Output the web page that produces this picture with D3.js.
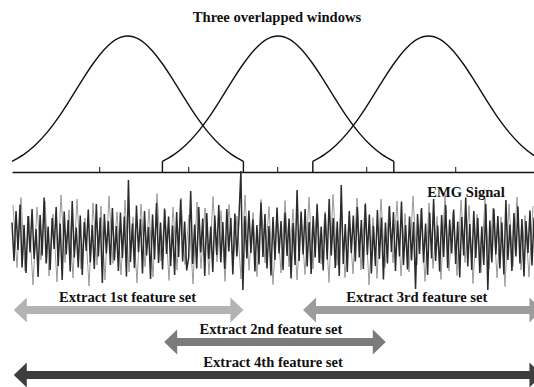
<!DOCTYPE html>
<html><head><meta charset="utf-8">
<script src="https://cdn.jsdelivr.net/npm/d3@7"></script>
<style>html,body{margin:0;padding:0;background:#fff;}svg{display:block;}</style>
</head><body>
<svg id="c" width="534" height="387"></svg>
<script>
// ---- data ----
const title = "Three overlapped windows";
const signalLabel = "EMG Signal";
const timeDomain = [0.02, 6.0];
const tickValues = [1, 2, 3, 4, 5];
const windowStarts = [0.02, 1.71, 3.40];
const windowLength = 2.6;
const windowShape = [0.079,0.128,0.197,0.288,0.400,0.530,0.666,0.796,0.903,0.975,1.0,0.975,0.903,0.796,0.666,0.530,0.400,0.288,0.197,0.128,0.079];
// EMG signal, dark trace (core)
const emg = [
0.35,-0.42,0.58,-0.20,0.71,-0.55,0.30,-0.66,0.48,-0.25,
0.62,-0.38,0.22,-0.74,0.50,-0.31,0.85,-0.47,0.27,-0.60,
0.44,-0.18,0.66,-0.52,0.33,-0.80,0.57,-0.29,0.40,-0.63,
0.78,-0.35,0.25,-0.55,0.49,-0.70,0.36,-0.22,0.61,-0.45,
0.30,-0.58,0.72,-0.33,0.45,-0.86,0.52,-0.27,0.38,-0.50,
0.64,-0.41,0.28,-0.62,0.55,-0.36,0.47,-0.73,1.20,-0.44,
0.33,-0.56,0.69,-0.24,0.42,-0.67,0.58,-0.31,0.26,-0.78,
0.51,-0.39,0.74,-0.46,0.35,-0.59,0.63,-0.28,0.47,-0.52,
0.29,-0.70,0.56,-0.34,0.81,-0.43,0.37,-0.61,-0.35,0.98,
-0.48,0.31,-0.57,0.66,-0.25,0.43,-0.72,0.54,-0.38,0.27,
-0.64,0.49,-0.30,0.70,-0.45,0.36,-0.58,0.62,-0.23,0.44,
-0.69,0.53,-0.33,0.40,1.38,-1.00,0.48,-0.37,0.59,-0.26,
0.41,-0.63,0.30,-0.49,0.75,-0.34,0.52,-0.57,0.28,-0.71,
0.46,-0.40,0.65,-0.27,0.38,-0.60,0.55,-0.32,0.43,-0.77,
0.34,-0.50,1.00,-0.42,0.57,-0.29,0.62,-0.53,0.36,-0.68,
0.48,-0.35,0.71,-0.46,0.27,-0.61,0.53,-0.39,0.82,-0.31,
0.44,-0.56,0.37,-0.72,1.10,-0.48,0.32,-0.64,0.58,-0.26,
0.49,-0.43,0.66,-0.35,0.40,-0.58,0.73,-0.30,0.51,-0.67,
0.28,-0.52,0.60,-0.38,0.45,-0.79,0.35,-0.47,0.68,-0.24,
0.56,-0.62,0.39,-0.33,0.77,-0.50,0.30,-0.59,0.47,-0.41,
0.36,-0.98,0.52,-0.28,0.64,-0.45,0.33,-0.70,0.55,-0.37,
0.82,-0.42,0.29,-0.63,0.50,-0.34,0.70,-0.56,0.41,-0.27,
0.61,-0.48,0.37,-0.75,0.46,-0.31,0.85,-0.53,0.32,-0.60,
0.58,-0.36,0.44,-0.66,0.27,-0.50,0.72,-1.00,0.39,-0.45,
0.63,-0.29,0.48,-0.57,0.35,-0.69,0.80,-0.40,0.31,-0.62,
0.54,-0.33,0.67,-0.47,0.42,-0.73,0.38,-0.26,0.59,-0.51,
0.45];
// EMG signal, light trace (outer spikes)
const emgLight = [
0.70,-0.55,0.85,-0.62,0.48,-0.90,0.66,-0.40,0.78,-0.72,
0.52,-0.84,0.90,-0.45,0.60,-0.76,0.82,-0.58,0.44,-0.92,
0.74,-0.50,0.68,-0.80,0.88,-0.47,0.56,-0.70,0.80,-0.64,
0.46,-0.86,0.72,-0.53,0.62,-0.74,0.93,-0.42,0.58,-0.81,
0.66,-0.60,0.84,-0.49,0.50,-0.88,0.76,-0.57,0.64,-0.70,
0.87,-0.44,0.59,-0.83,0.71,-0.52,0.48,-0.78,0.90,-0.61,
0.55,-0.73,0.81,-0.46,0.67,-0.89,0.52,-0.66,0.79,-0.54,
0.62,-0.80,0.47,-0.69,0.86,-0.58,0.73,-0.48,0.57,-0.85,
0.91,-0.51,0.63,-0.75,0.49,-0.68,0.84,-0.60,0.70,-0.90,
0.45,-0.77,0.82,-0.55,0.66,-0.46,0.78,-0.72,0.53,-0.64,
0.88,-0.50,0.61,-0.83,0.74,-0.57,0.47,-0.79,0.92,-0.62,
0.56,-0.71,0.80,-0.45,0.69,-0.87,0.51,-0.65,0.83,-0.58,
0.64,-0.76,0.46,-0.93,0.72,-0.53,0.86,-0.60,0.49,-0.74,
0.68];
const arrowLabels = ["Extract 1st feature set","Extract 2nd feature set","Extract 3rd feature set","Extract 4th feature set"];
const arrowStarts = [0.04, 1.73, 3.29, 0.04];
const arrowEnds = [2.62, 4.22, 5.98, 5.98];

// ---- layout / style ----
const arrowRowY = [310, 342, 310, 375];
const arrowColors = ["#b3b3b3", "#7b7b7b", "#9c9c9c", "#3e3e3e"];
const labelShift = [-1, -4, -6, -5];

const svg = d3.select("#c");
const x = d3.scaleLinear().domain(timeDomain).range([12, 12 + (timeDomain[1]-timeDomain[0])*89]);
const yw = d3.scaleLinear().domain([0, 1]).range([172, 36]);
const font = "'Liberation Serif','Times New Roman',serif";
const fs = 14.6;

// title
svg.append("text").attr("x", 277).attr("y", 22).attr("text-anchor", "middle")
  .attr("font-family", font).attr("font-weight", "bold").attr("font-size", fs).attr("fill", "#111").text(title);

// axis
const axis = d3.axisTop(x).tickValues(tickValues).tickSize(5).tickSizeOuter(0).tickFormat("");
const ag = svg.append("g").attr("transform", "translate(0,172)").call(axis);
ag.select(".domain").attr("stroke", "#111").attr("stroke-width", 1.5);
ag.selectAll(".tick line").attr("stroke", "#111").attr("stroke-width", 1);

// windows
const line = d3.line().x(d => x(d[0])).y(d => yw(d[1])).curve(d3.curveCatmullRom);
windowStarts.forEach(s => {
  const pts = windowShape.map((v, k) => [s + k / (windowShape.length - 1) * windowLength, v]);
  svg.append("path").attr("d", line(pts)).attr("fill", "none").attr("stroke", "#111").attr("stroke-width", 1.4);
  [s, s + windowLength].forEach((e, i) => {
    if (e > timeDomain[0] + 0.01 && e < timeDomain[1]) {
      svg.append("line").attr("x1", x(e)).attr("x2", x(e))
        .attr("y1", yw(windowShape[i ? windowShape.length - 1 : 0])).attr("y2", yw(0))
        .attr("stroke", "#111").attr("stroke-width", 1.4);
    }
  });
});

// EMG signal
const ys = d3.scaleLinear().domain([-1, 1]).range([290, 190]);
const xl = d3.scaleLinear().domain([0, emgLight.length - 1]).range([13, 533]);
svg.append("path").attr("d", d3.line().x((d, i) => xl(i)).y(d => ys(d))(emgLight))
  .attr("fill", "none").attr("stroke", "#9a9a9a").attr("stroke-width", 1);
const xs = d3.scaleLinear().domain([0, emg.length - 1]).range([12, 534]);
svg.append("path").attr("d", d3.line().x((d, i) => xs(i)).y(d => ys(d))(emg))
  .attr("fill", "none").attr("stroke", "#2b2b2b").attr("stroke-width", 1.5);

svg.append("text").attr("x", 466).attr("y", 197).attr("text-anchor", "middle")
  .attr("font-family", font).attr("font-weight", "bold").attr("font-size", fs).attr("fill", "#111").text(signalLabel);

// arrows
const shaft = 4, headH = 12.5, headL = 13;
arrowLabels.forEach((lab, i) => {
  const x0 = x(arrowStarts[i]), x1 = x(arrowEnds[i]), cy = arrowRowY[i];
  const p = d3.path();
  p.moveTo(x0, cy);
  p.lineTo(x0 + headL, cy - headH);
  p.lineTo(x0 + headL, cy - shaft);
  p.lineTo(x1 - headL, cy - shaft);
  p.lineTo(x1 - headL, cy - headH);
  p.lineTo(x1, cy);
  p.lineTo(x1 - headL, cy + headH);
  p.lineTo(x1 - headL, cy + shaft);
  p.lineTo(x0 + headL, cy + shaft);
  p.lineTo(x0 + headL, cy + headH);
  p.closePath();
  svg.append("path").attr("d", p.toString()).attr("fill", arrowColors[i]);
});
arrowLabels.forEach((lab, i) => {
  const x0 = x(arrowStarts[i]), x1 = x(arrowEnds[i]);
  svg.append("text").attr("x", (x0 + x1) / 2 + labelShift[i]).attr("y", arrowRowY[i] - 8)
    .attr("text-anchor", "middle").attr("font-family", font).attr("font-weight", "bold")
    .attr("font-size", fs).attr("fill", "#111").text(lab);
});
</script>
</body></html>
